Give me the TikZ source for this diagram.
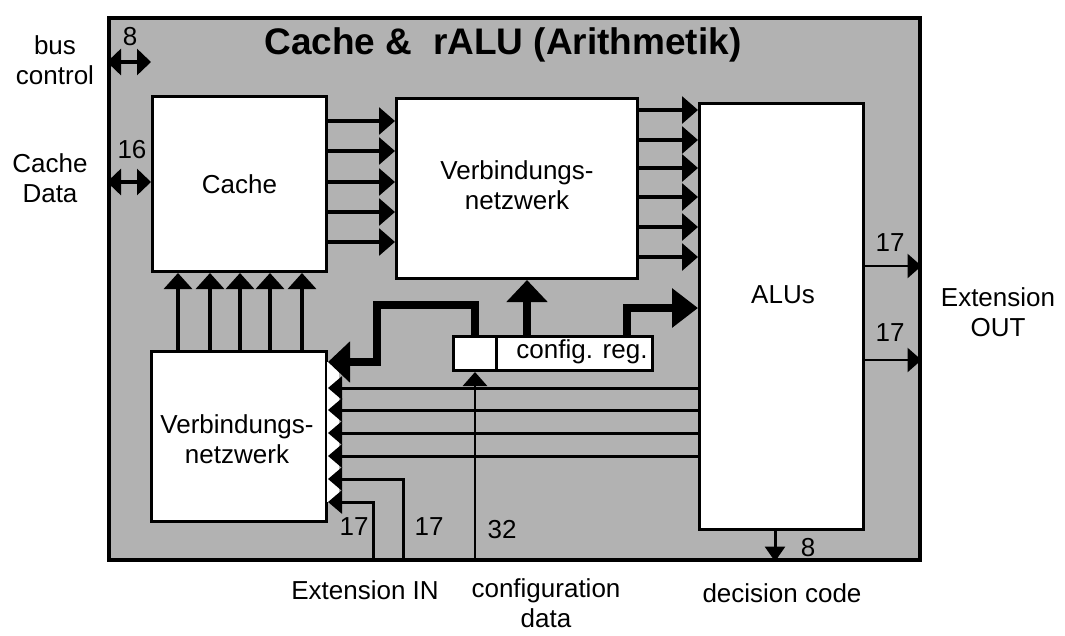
\documentclass[tikz,border=0pt]{standalone}
\usepackage{fontspec}
\setmainfont{Liberation Sans}
\usetikzlibrary{arrows.meta,calc}
\begin{document}
\begin{tikzpicture}[x=1pt,y=-1pt,
  box/.style={draw, fill=white, line width=3pt, inner sep=0pt, anchor=north west},
  txt/.style={font=\fontsize{26}{30}\selectfont, inner sep=0pt, align=center},
  arrH/.style={line width=3.2pt, -{Triangle[length=16pt,width=27pt]}},
  arrV/.style={line width=3.2pt, -{Triangle[length=16pt,width=28pt]}},
  arrL/.style={line width=3pt, -{Triangle[length=14pt,width=23pt]}},
  arrS/.style={line width=2.8pt, -{Triangle[length=14pt,width=24pt]}},
  darr/.style={line width=3.2pt, {Triangle[length=14pt,width=26pt]}-{Triangle[length=14pt,width=26pt]}},
  fat/.style={line width=8pt, line join=miter, -{Triangle[length=22pt,width=40pt]}}
]
\useasboundingbox (0,0) rectangle (1065,635);
% outer frame
\node[draw, fill=black!30, line width=3.5pt, inner sep=0pt, anchor=north west,
      minimum width=811pt, minimum height=542pt] (outer) at (107,16) {};
\node[font=\fontsize{37}{40}\selectfont\bfseries, inner sep=0pt] (title) at (503,45) {Cache \&\ \ rALU (Arithmetik)};
% boxes
\node[box, minimum width=174pt, minimum height=175pt] (cache) at (151,95) {};
\node[txt] (cachelbl) at (cache.center) {Cache};
\node[box, minimum width=241pt, minimum height=180pt] (vn1) at (395,97) {};
\node[txt] (vn1lbl) at ($(vn1.center)+(0,-3)$) {Verbindungs-\\netzwerk};
\node[box, minimum width=164pt, minimum height=426pt] (alu) at (698,102) {};
\node[txt] (alulbl) at (783,295) {ALUs};
\node[box, minimum width=175pt, minimum height=170pt] (vn2) at (150,350) {};
\node[txt] (vn2lbl) at (237,439) {Verbindungs-\\netzwerk};
\node[box, minimum width=43pt, minimum height=34pt] (cfgA) at (452,335) {};
\node[box, minimum width=156pt, minimum height=34pt] (cfgB) at (495,335) {};
\node[txt] (cfglbl) at (582,352) {config. reg.};
% white backing behind stacked arrowheads
\fill[white] (326.5,362) rectangle (339,502);
% cache -> vn1
\foreach \y in {121,151,182,212,242}
  \draw[arrH] (cache.east |- 0,\y) -- (vn1.west |- 0,\y);
% vn1 -> alu
\foreach \y in {110,140,168,197,227,257}
  \draw[arrH] (vn1.east |- 0,\y) -- (alu.west |- 0,\y);
% vn2 -> cache
\foreach \x in {178,210,240,270,302}
  \draw[arrV] (vn2.north -| \x,0) -- (cache.south -| \x,0);
% alu -> vn2
\foreach \y in {388,410,433,456}
  \draw[arrL] (alu.west |- 0,\y) -- (vn2.east |- 0,\y);
% extension in
\draw[arrL] (outer.south -| 403,0) |- (vn2.east |- 0,479);
\draw[arrL] (outer.south -| 373,0) |- (vn2.east |- 0,502);
% configuration data
\draw[arrS] (cfgA.south |- outer.south) -- (cfgA.south);
% config register outputs
\coordinate (k1) at (377,305);
\draw[fat] (cfgA.north) |- (k1) |- (vn2.east |- 0,362);
\draw[fat] (cfgB.north -| 527,0) -- (vn1.south -| 527,0);
\draw[line width=8pt, line join=miter, -{Triangle[length=26pt,width=38pt]}] (cfgB.north -| 627,0) |- (alu.west |- 0,308);
% decision code
\draw[line width=3pt, -{Triangle[length=15pt,width=20pt]}] (alu.south -| 775,0) -- (outer.south -| 775,0);
% extension out
\draw[arrS] (alu.east |- 0,266) -- (outer.east |- 0,266);
\draw[arrS] (alu.east |- 0,360) -- (outer.east |- 0,360);
% bus control and cache data
\draw[darr] (outer.west |- 0,62) -- (cache.west |- 0,62);
\draw[darr] (outer.west |- 0,182) -- (cache.west |- 0,182);
% numbers
\node[txt] (n8a) at (130,37) {8};
\node[txt] (n16) at (132,150) {16};
\node[txt] (n17a) at (890,243) {17};
\node[txt] (n17b) at (890,333) {17};
\node[txt] (n17c) at (354,527) {17};
\node[txt] (n17d) at (429,527) {17};
\node[txt] (n32) at (502,530) {32};
\node[txt] (n8b) at (808,548) {8};
% outer labels
\node[txt] (bus) at (55,60) {bus\\control};
\node[txt] (cdata) at (50,178) {Cache\\Data};
\node[txt] (extout) at (998,312) {Extension\\OUT};
\node[txt] (extin) at (365,590) {Extension IN};
\node[txt] (cfgdata) at (546,603) {configuration\\data};
\node[txt] (dec) at (782,593) {decision code};
\end{tikzpicture}
\end{document}
